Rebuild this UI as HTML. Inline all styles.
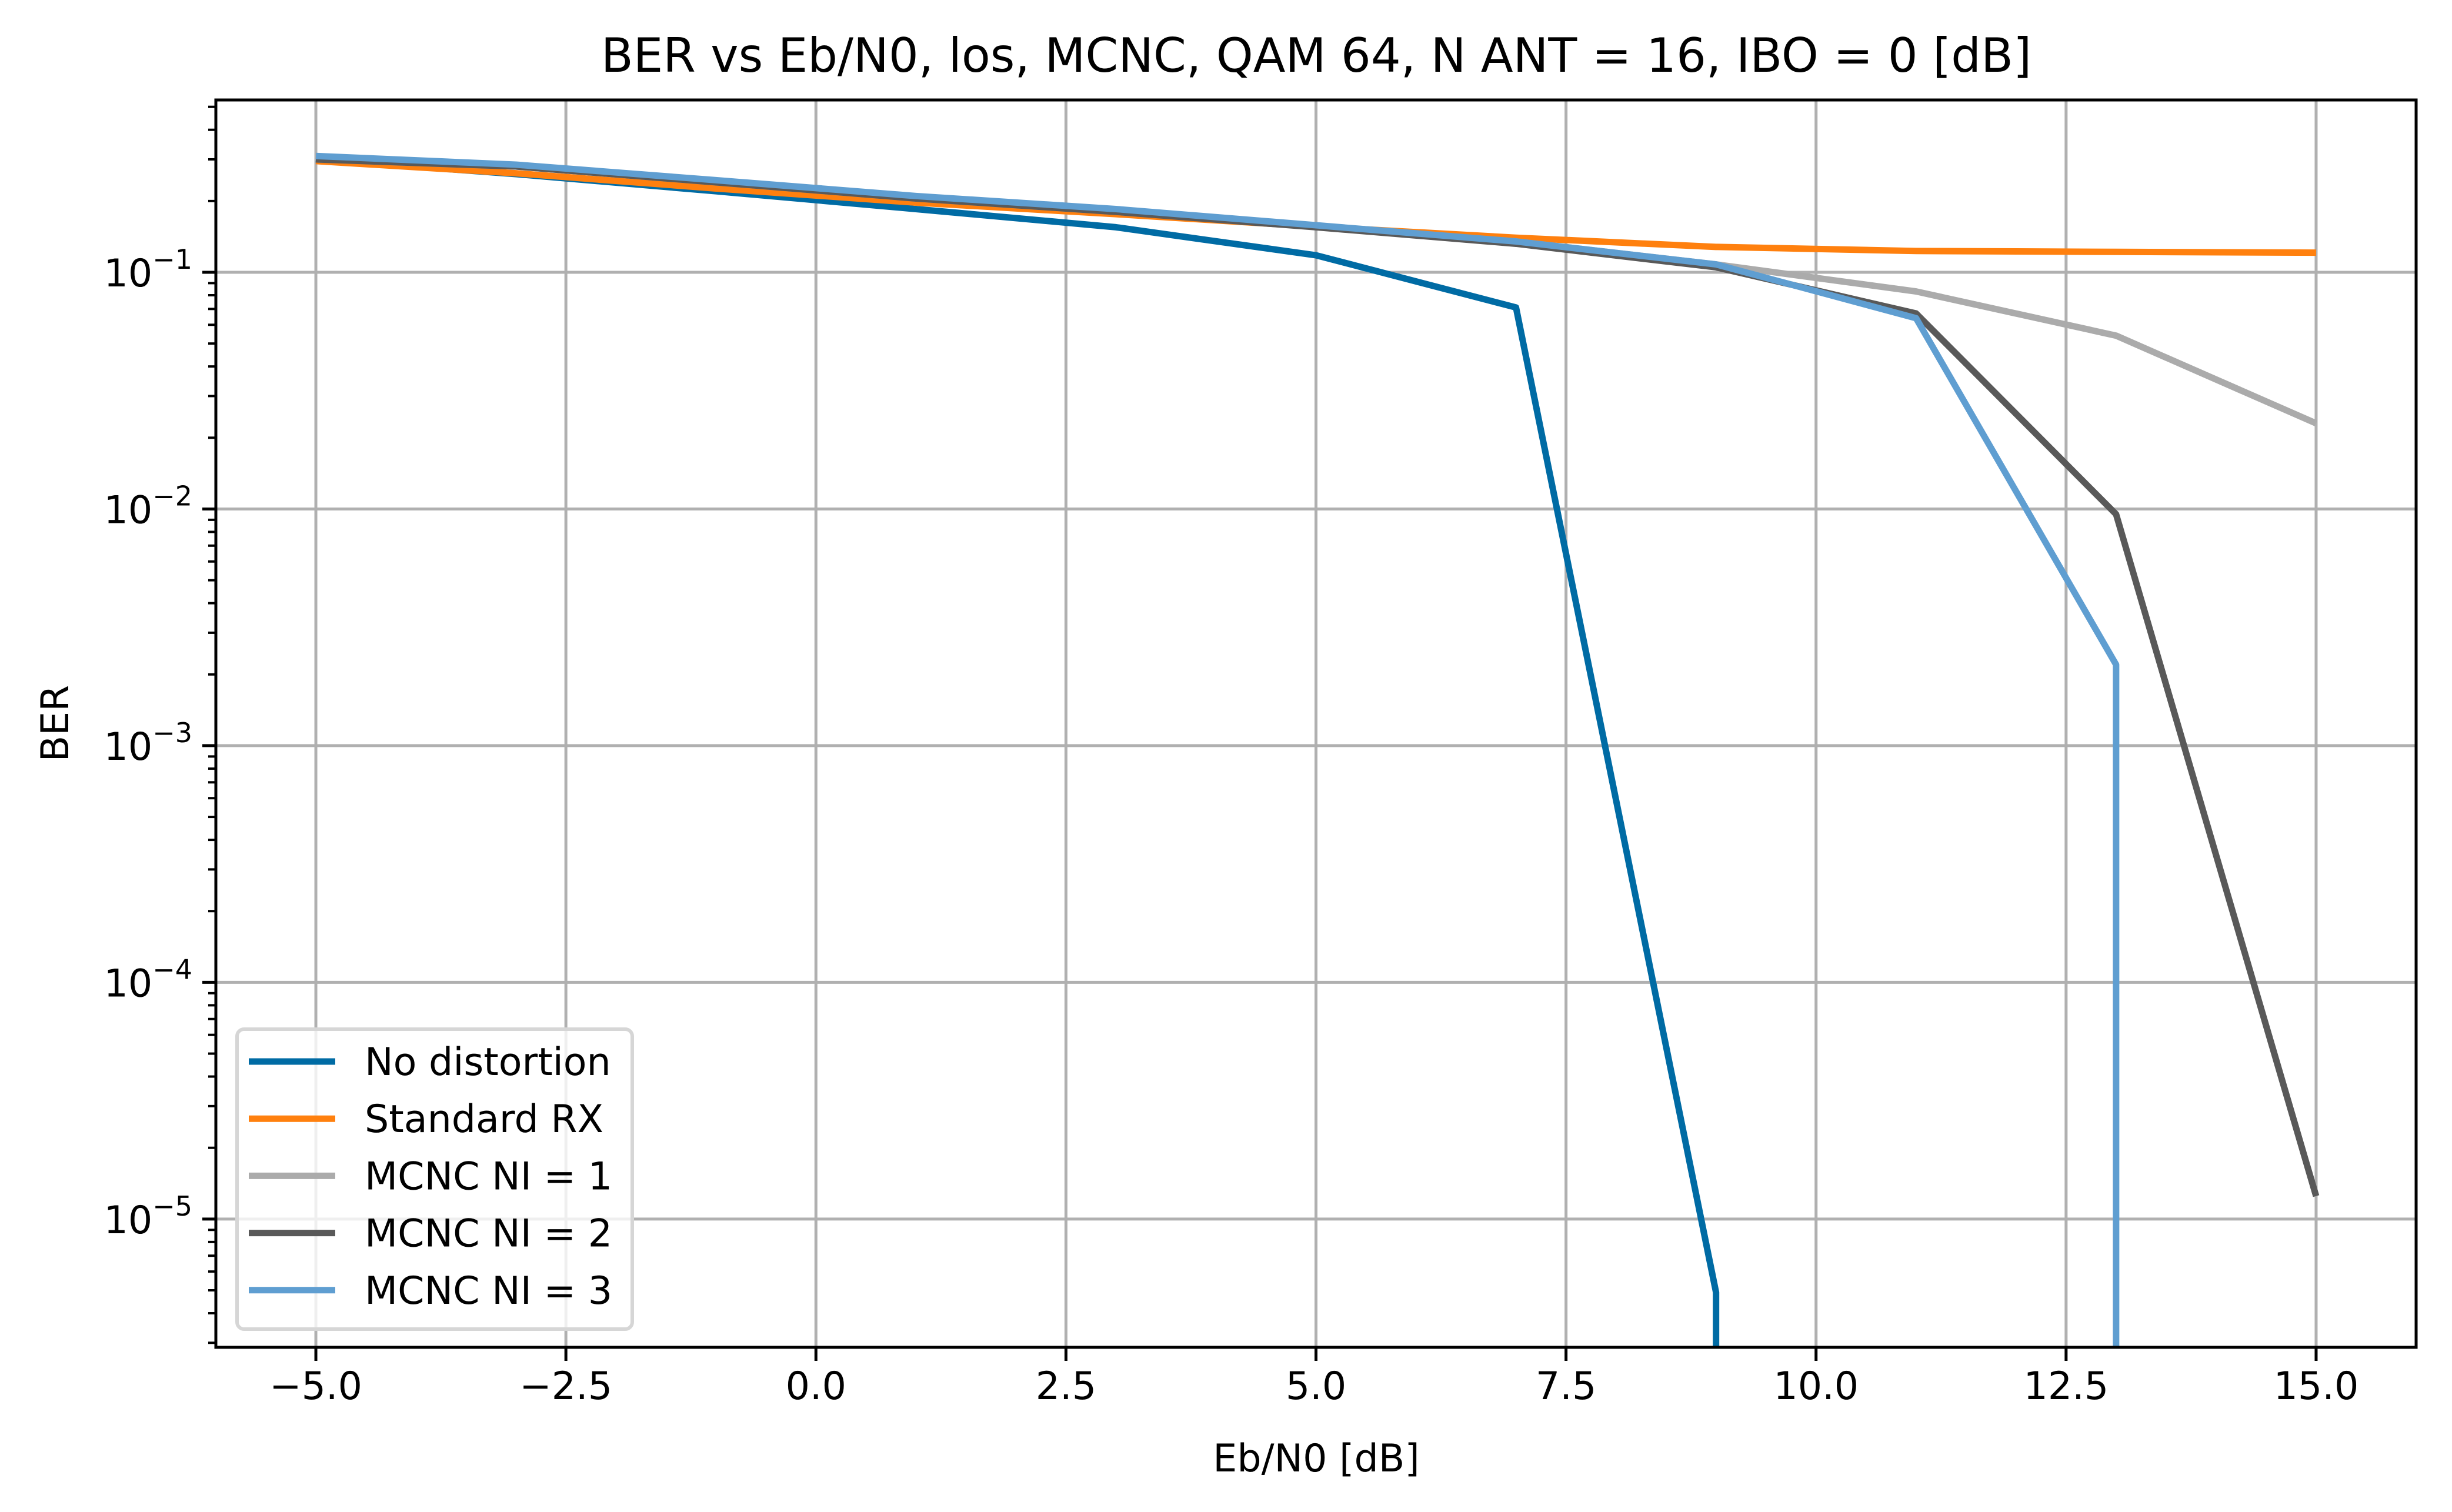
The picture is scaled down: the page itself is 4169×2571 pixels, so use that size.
<!DOCTYPE html>
<html><head><meta charset="utf-8"><style>
html,body{margin:0;padding:0;background:#fff}
svg{display:block}
text{font-family:"DejaVu Sans","Liberation Sans",sans-serif;fill:#000}
</style></head><body>
<svg id="chart" width="4169" height="2571" viewBox="0 0 4169 2571" xmlns="http://www.w3.org/2000/svg">
<rect width="4169" height="2571" fill="#fff"/>
<g id="grid"></g>
<g id="series"></g>
<g id="axes"></g>
<text x="2238" y="122" font-size="80" text-anchor="middle">BER vs Eb/N0, los, MCNC, QAM 64, N ANT = 16, IBO = 0 [dB]</text>
<text x="2238" y="2502" font-size="65" text-anchor="middle">Eb/N0 [dB]</text>
<text x="0" y="0" font-size="65" text-anchor="middle" transform="translate(116,1230) rotate(-90)">BER</text>
<g id="legend"></g>
</svg>
<script>
const xValues = [-5,-3,-1,1,3,5,7,9,11,13,15];
const seriesNames = ["No distortion","Standard RX","MCNC NI = 1","MCNC NI = 2","MCNC NI = 3"];
const noDistortion = [0.30,0.26,0.22,0.185,0.155,0.118,0.071,4.9e-6,0,0,0];
const standardRx = [0.295,0.262,0.226,0.197,0.176,0.156,0.140,0.128,0.123,0.122,0.121];
const mcncNi1 = [0.30,0.28,0.24,0.205,0.18,0.156,0.135,0.108,0.083,0.054,0.023];
const mcncNi2 = [0.30,0.28,0.24,0.205,0.18,0.155,0.132,0.105,0.067,0.0095,1.25e-5];
const mcncNi3 = [0.31,0.285,0.245,0.21,0.185,0.158,0.135,0.108,0.064,0.0022,0];
const xTicks = [-5,-2.5,0,2.5,5,7.5,10,12.5,15];
const xTickLabels = ["\u22125.0","\u22122.5","0.0","2.5","5.0","7.5","10.0","12.5","15.0"];
const yDecades = [-1,-2,-3,-4,-5];

const seriesData = [noDistortion, standardRx, mcncNi1, mcncNi2, mcncNi3];
const colors = ["#006BA4","#FF800E","#ABABAB","#595959","#5F9ED1"];
const L=367,R=4108,T=170,B=2291;
const xMin=-6,xMax=16,yTopLog=-0.272,yBotLog=-5.542;
const NS="http://www.w3.org/2000/svg";
function xs(v){return L+(v-xMin)/(xMax-xMin)*(R-L);}
function ysLog(lg){return T+(yTopLog-lg)/(yTopLog-yBotLog)*(B-T);}
function ys(v){return ysLog(Math.log10(v));}
function mk(tag,attrs,parent){const e=document.createElementNS(NS,tag);for(const k in attrs)e.setAttribute(k,attrs[k]);parent.appendChild(e);return e;}
const grid=document.getElementById('grid'),axes=document.getElementById('axes'),ser=document.getElementById('series'),leg=document.getElementById('legend');
const defs=mk('defs',{},document.getElementById('chart'));
const cp=mk('clipPath',{id:'plotclip'},defs);mk('rect',{x:L,y:T,width:R-L,height:B-T},cp);
ser.setAttribute('clip-path','url(#plotclip)');
xTicks.forEach((t,i)=>{
  const x=xs(t);
  const g=mk('line',{x1:x,x2:x,y1:T,y2:B,stroke:'#b0b0b0','stroke-width':5},grid);
  
  
  const tk=mk('line',{x1:x,x2:x,y1:B,y2:B+23,stroke:'#000','stroke-width':5},axes);
  
  
  const lb=mk('text',{x:x,y:B+88,'font-size':65,'text-anchor':'middle'},axes);
  lb.textContent=xTickLabels[i];
  
  
});
yDecades.forEach(d=>{
  const y=ysLog(d);
  const g=mk('line',{x1:L,x2:R,y1:y,y2:y,stroke:'#b0b0b0','stroke-width':5},grid);
  
  
  const tk=mk('line',{x1:L-23,x2:L,y1:y,y2:y,stroke:'#000','stroke-width':5},axes);
  
  
  const lb=mk('text',{x:L-40,y:y+24,'font-size':65,'text-anchor':'end'},axes);
  
  
  const t1=mk('tspan',{},lb);t1.textContent='10';
  const t2=mk('tspan',{dy:-30,'font-size':46},lb);t2.textContent='\u2212'+Math.abs(d);
});
for(let d=-6;d<=0;d++){for(let m=2;m<=9;m++){const lg=d+Math.log10(m);if(lg<yTopLog&&lg>yBotLog){const y=ysLog(lg);
  const tk=mk('line',{x1:L-13,x2:L,y1:y,y2:y,stroke:'#000','stroke-width':4},axes);
  
  }}}
const frame=mk('rect',{x:L,y:T,width:R-L,height:B-T,fill:'none',stroke:'#000','stroke-width':5},axes);


seriesData.forEach((arr,i)=>{
  const pts=[];
  for(let j=0;j<arr.length;j++){
    if(arr[j]>0){pts.push(xs(xValues[j])+','+ys(arr[j]));}
    else{ if(j>0&&arr[j-1]>0){pts.push(xs(xValues[j-1])+','+(B+300));} break; }
  }
  const p=mk('polyline',{points:pts.join(' '),fill:'none',stroke:colors[i],'stroke-width':11,'stroke-linejoin':'round'},ser);
  
  
});
const box=mk('rect',{x:403,y:1750,width:672,height:510,rx:12,fill:'#fff','fill-opacity':0.8,stroke:'#d6d6d6','stroke-width':6},leg);


seriesNames.forEach((n,i)=>{
  const y=1805+i*97.2;
  const ln=mk('line',{x1:423,x2:570,y1:y,y2:y,stroke:colors[i],'stroke-width':11},leg);
  
  
  const t=mk('text',{x:620,y:y+23,'font-size':65},leg);
  t.textContent=n;
  
  
});
</script>
</body></html>
